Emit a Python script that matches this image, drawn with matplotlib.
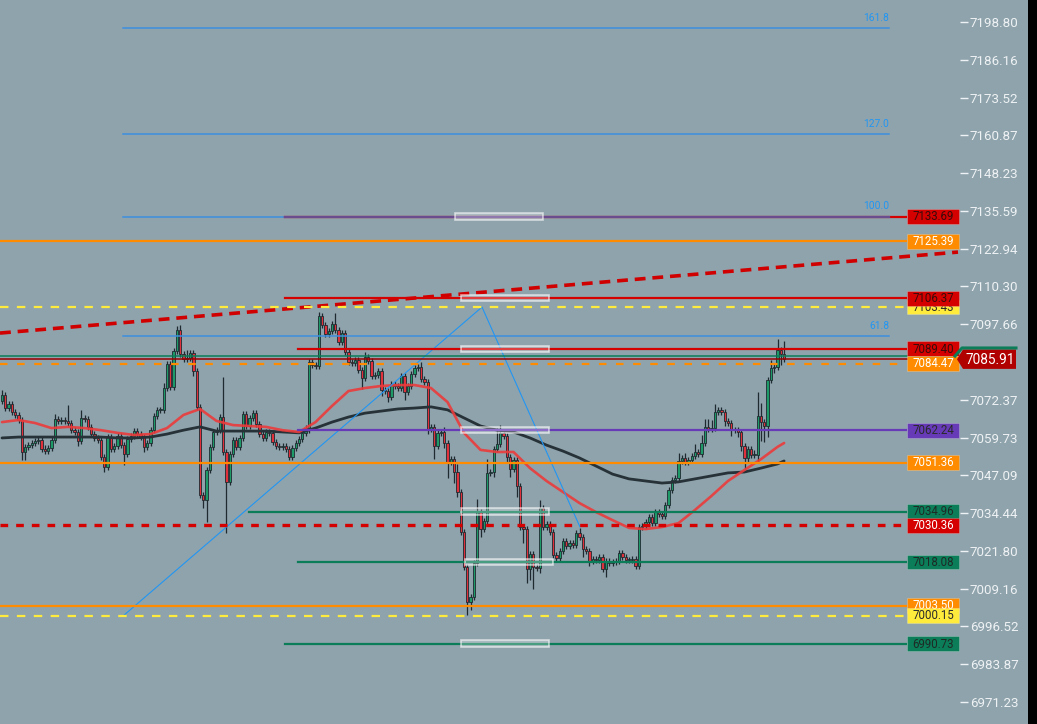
import numpy as np
import matplotlib.pyplot as plt
import matplotlib.transforms as mtransforms
from matplotlib.patches import Rectangle, Polygon

# Velas (cierres, 238 velas)
closes = [
    7074.0, 7069.6, 7070.9, 7068.3, 7067.3, 7065.6, 7054.9, 7056.6, 7057.2, 7057.9,
    7058.6, 7058.9, 7055.9, 7055.2, 7056.2, 7058.9, 7065.9, 7065.3, 7065.6, 7065.3,
    7064.6, 7062.2, 7061.6, 7058.6, 7066.3, 7065.9, 7063.3, 7060.9, 7059.6, 7058.9,
    7053.2, 7049.9, 7059.9, 7055.9, 7056.9, 7060.2, 7057.2, 7054.2, 7059.2, 7060.2,
    7061.9, 7060.9, 7059.9, 7056.6, 7057.9, 7062.2, 7066.9, 7069.0, 7069.0, 7076.3,
    7084.3, 7076.6, 7088.7, 7095.7, 7087.7, 7086.0, 7086.4, 7088.0, 7082.0, 7070.0,
    7040.5, 7038.8, 7048.9, 7056.6, 7061.6, 7062.2, 7066.6, 7054.9, 7044.9, 7054.2,
    7058.9, 7056.6, 7059.6, 7067.6, 7063.6, 7066.3, 7067.9, 7064.3, 7060.9, 7059.6,
    7061.6, 7061.3, 7058.2, 7056.9, 7056.6, 7056.9, 7055.9, 7053.2, 7056.2, 7057.9,
    7059.2, 7061.3, 7062.9, 7085.0, 7084.0, 7083.7, 7100.4, 7097.4, 7094.4, 7095.4,
    7097.7, 7095.7, 7091.7, 7094.7, 7088.4, 7085.0, 7084.7, 7085.7, 7082.3, 7079.7,
    7086.7, 7085.3, 7080.3, 7080.7, 7082.0, 7075.6, 7075.3, 7073.3, 7077.6, 7077.0,
    7076.3, 7080.3, 7075.0, 7077.0, 7081.0, 7083.0, 7083.3, 7079.3, 7078.3, 7062.6,
    7063.3, 7056.9, 7061.3, 7061.6, 7057.9, 7051.5, 7052.5, 7048.2, 7041.5, 7028.1,
    7016.4, 7004.7, 7006.4, 7017.7, 7034.8, 7029.1, 7031.8, 7047.9, 7048.2, 7055.9,
    7057.6, 7061.3, 7060.2, 7053.2, 7049.2, 7052.2, 7043.5, 7029.8, 7029.1, 7015.7,
    7020.8, 7016.4, 7016.1, 7036.2, 7029.8, 7030.8, 7028.1, 7020.4, 7019.4, 7021.8,
    7025.1, 7023.4, 7024.4, 7023.8, 7027.8, 7026.4, 7022.4, 7021.8, 7018.4, 7019.1,
    7018.7, 7019.8, 7015.7, 7018.4, 7017.7, 7018.1, 7018.4, 7021.1, 7019.8, 7018.7,
    7018.7, 7019.1, 7016.7, 7029.8, 7030.1, 7031.5, 7033.1, 7031.1, 7034.8, 7034.1,
    7033.5, 7037.2, 7042.2, 7045.5, 7046.2, 7051.9, 7052.9, 7051.5, 7052.2, 7053.6,
    7054.9, 7054.2, 7057.9, 7063.3, 7062.6, 7062.9, 7068.3, 7069.0, 7068.3, 7065.3,
    7064.6, 7062.2, 7062.2, 7061.6, 7056.9, 7052.9, 7055.9, 7053.9, 7053.9, 7066.9,
    7064.9, 7063.6, 7079.0, 7083.0, 7083.3, 7089.0, 7087.7, 7085.91,
]
first_open = 7072.0
wick_up = [
    2, 1, 1, 1, 1, 1, 1, 1, 1, 1,   1, 1, 1, 1.5, 1, 1, 2, 1, 1, 1,
    6, 1, 1, 1, 3, 1, 1, 1, 1, 1,   1, 1, 1, 1, 1, 1, 1, 1, 1, 1,
    1, 1, 1, 1, 1, 1, 1, 1, 1, 2,   1, 1, 1, 1.5, 2, 1, 3, 1, 1, 1,
    1, 1, 1, 1, 1, 1, 1, 15, 1, 1,  1, 1, 1, 1, 1, 1, 1, 1, 1, 1,
    1, 1, 1, 1, 1, 1, 1, 1, 1, 1,   1, 1, 1, 1, 1, 1, 1.5, 1, 1, 1,
    1, 4, 1, 1, 1, 1, 1, 1, 1, 1,   2, 1, 1, 1, 1, 1, 1, 1, 1, 1,
    1, 1, 1, 1, 1, 1, 1, 2, 1, 1,   1, 1, 1, 1, 2, 1, 1, 1, 3, 1,
    1, 1, 1, 1, 5, 1, 1, 5, 1, 1,   6, 3, 1, 1, 1, 1, 1, 1, 1, 1,
    1, 1, 1, 3, 1, 1, 1, 1, 1, 1,   1, 1, 1, 1, 1, 2, 1, 1, 1, 1,
    1, 1, 1, 1, 1, 1, 1, 1, 1, 1,   1, 1, 1, 1, 1, 1, 1, 1, 1, 1,
    1, 1, 1, 1, 1, 3, 1, 2, 1, 1,   3, 1, 3, 3, 3, 3, 3, 1, 1, 1,
    1, 1, 1, 1, 1, 1, 1, 1, 2, 9,   5, 1, 1, 3, 1, 4, 1, 5,
]
wick_dn = [
    1, 1, 1, 1, 1, 1, 3, 3, 1, 1,   1, 1, 1, 1, 1, 1, 1, 1, 1, 1,
    1, 1, 1, 2, 1, 1, 1, 1, 1, 1,   1, 2, 1, 1, 1, 1, 1, 4, 1, 1,
    1, 1, 1, 2, 1, 1, 1, 1, 1, 1,   1, 1, 1, 1, 1, 1, 1, 1, 2, 1,
    1, 3, 8, 1, 1, 1, 1, 1, 19, 1,  1, 1, 1, 1, 1, 1, 1, 1, 1, 1,
    1, 1, 1, 1, 1, 1, 1, 1, 1, 1,   1, 1, 1, 2, 1, 1, 1, 1, 1, 1,
    1, 1, 1, 1, 1, 1, 1, 1, 1, 4,   1, 1, 1, 1, 1, 2, 1, 2, 1, 1,
    1, 1, 3, 1, 1, 1, 1, 1, 1, 2,   1, 5, 1, 1, 2, 6, 1, 4, 2, 1,
    1, 5, 3, 1, 1, 3, 1, 1, 1, 2,   1, 1, 1, 2, 3, 1, 4, 1, 5, 5,
    4, 8, 1, 2, 1, 1, 1, 1, 1, 1,   1, 1, 1, 1, 1, 1, 3, 1, 2, 1,
    1, 1, 1, 3, 1, 1, 1, 1, 1, 1,   1, 1, 1, 1, 1, 1, 1, 1, 1, 1,
    1, 1, 1, 1, 1, 1, 1, 1, 1, 1,   1, 1, 1, 1, 1, 1, 1, 1, 1, 2,
    1, 2, 1, 2, 2, 4, 2, 1, 1, 3,   7, 6, 4, 1, 2, 1, 4, 1,
]

# Medias moviles (leidas cada 5 velas)
ma_idx = list(range(0, 236, 5)) + [237]
ma_fast = [7064.9, 7065.6, 7064.6, 7062.9, 7063.3, 7062.9, 7062.2, 7061.3, 7060.6, 7060.9,
           7062.9, 7067.3, 7069.3, 7065.3, 7063.9, 7063.6, 7063.3, 7062.2, 7061.6, 7064.9,
           7070.3, 7075.3, 7076.3, 7077.0, 7077.3, 7077.3, 7076.3, 7071.6, 7061.3, 7055.6,
           7054.9, 7054.9, 7049.5, 7045.2, 7041.5, 7037.8, 7034.8, 7032.1, 7029.5, 7029.1,
           7029.8, 7031.1, 7035.5, 7040.2, 7045.2, 7048.9, 7052.5, 7056.6, 7057.9]
ma_slow = [7059.6, 7059.9, 7059.9, 7059.9, 7059.9, 7059.9, 7059.9, 7059.6, 7059.6, 7059.9,
           7060.9, 7062.2, 7063.3, 7061.9, 7061.9, 7061.9, 7061.9, 7061.6, 7061.3, 7062.9,
           7064.9, 7066.6, 7067.9, 7068.6, 7069.3, 7069.6, 7070.0, 7069.0, 7066.3, 7063.6,
           7062.2, 7061.6, 7059.6, 7057.2, 7055.2, 7052.9, 7050.2, 7047.5, 7045.9, 7045.2,
           7044.5, 7044.9, 7045.9, 7046.9, 7047.9, 7048.2, 7049.5, 7050.9, 7051.9]

# Niveles horizontales
level_prices = [7103.43, 7133.69, 7125.39, 7106.37, 7089.40, 7084.47, 7062.24,
                7051.36, 7034.96, 7030.36, 7018.08, 7003.50, 7000.15, 6990.73]
level_labels = ['7103.43', '7133.69', '7125.39', '7106.37', '7089.40', '7084.47', '7062.24',
                '7051.36', '7034.96', '7030.36', '7018.08', '7003.50', '7000.15', '6990.73']
level_start_px = [0, 285, 0, 285, 298, 0, 298, 0, 249, 0, 298, 0, 0, 285]
level_colors = ['#ffeb3b', '#d50000', '#ff8c00', '#d50000', '#d50000', '#ff8c00', '#673ab7',
                '#ff8c00', '#0b7d58', '#d50000', '#0b7d58', '#ff8c00', '#ffeb3b', '#0b7d58']
level_styles = ['yellow', 'solid', 'solid', 'solid', 'solid', 'orange', 'solid',
                'solid', 'solid', 'red', 'solid', 'solid', 'yellow', 'solid']
label_text_colors = ['#2a2a2a', '#3a0a0a', 'white', '#3a0a0a', '#3a0a0a', 'white', '#2a2a2a',
                     'white', '#1e2a26', 'white', '#1e2a26', 'white', '#2a2a2a', '#1e2a26']

# Zonas (cajas blancas)
zone_prices = [7133.69, 7106.37, 7089.40, 7062.24, 7034.96, 7018.08, 6990.73]
zone_px = [(455, 543), (461, 549), (461, 549), (461, 549), (461, 549), (465, 553), (461, 549)]

# Fibonacci
fib_names = ['161.8', '127.0', '100.0', '61.8']
fib_prices = [7196.8, 7161.3, 7133.69, 7093.7]
zig_px = [123, 482, 580]
zig_prices = [7000.0, 7103.4, 7029.8]

trend_px = [0, 958]
trend_prices = [7094.7, 7121.8]

last_price = 7085.91
second_price = 7087.0

yticks = [7198.80, 7186.16, 7173.52, 7160.87, 7148.23, 7135.59, 7122.94, 7110.30, 7097.66,
          7072.37, 7059.73, 7047.09, 7034.44, 7021.80, 7009.16, 6996.52, 6983.87, 6971.23]

bg = '#8fa3ac'
W, H = 1037, 724
AXW = 960


def px(x):
    # pixel horizontal -> indice de vela
    return (x - 2) / 3.3


fig = plt.figure(figsize=(W / 100, H / 100), dpi=100)
fig.patch.set_facecolor(bg)
ax = fig.add_axes([0, 0, AXW / W, 1])
ax.set_facecolor(bg)
ax.set_xlim(px(0), px(AXW))
ax.set_ylim(6963.87, 7206.16)
for s in ax.spines.values():
    s.set_visible(False)
ax.set_xticks([])
ax.yaxis.tick_right()
ax.set_yticks(yticks)
ax.set_yticklabels(['%.2f' % t for t in yticks], fontfamily='Roboto')
ax.tick_params(axis='y', colors='#eef2f4', length=6, width=1, pad=1, labelsize=9.6)

blend = mtransforms.blended_transform_factory(ax.transAxes, ax.transData)

# velas
n = len(closes)
x = np.arange(n)
c = np.array(closes)
o = np.array([first_open] + closes[:-1])
hi = np.maximum(o, c) + np.array(wick_up) * 0.9
lo = np.minimum(o, c) - np.array(wick_dn) * 0.9
up = c >= o
ax.vlines(x, lo, hi, color='#1f2a30', lw=0.9, zorder=2)
body = np.maximum(np.abs(c - o), 0.4)
ax.bar(x, body, bottom=np.minimum(o, c), width=0.72,
       color=np.where(up, '#1e9a68', '#e0303c'), edgecolor='#1f2a30', lw=0.6, zorder=2.1)

# medias moviles
ax.plot(ma_idx, ma_slow, color='#263238', lw=2.0, zorder=3, solid_capstyle='round')
ax.plot(ma_idx, ma_fast, color='#ec3b3b', lw=1.9, alpha=0.9, zorder=3, solid_capstyle='round')

# fibonacci
for name, p in zip(fib_names, fib_prices):
    ax.plot([px(123), px(889)], [p, p], color='#3d8fe0', lw=1.1, zorder=3.5)
    ax.text(px(889), p + 1.7, name, ha='right', va='bottom', fontsize=7.4,
            color='#2196f3', fontfamily='Roboto', zorder=6)
ax.plot([px(v) for v in zig_px], zig_prices, color='#2196f3', lw=0.8, zorder=3.6)

# linea de tendencia
ax.plot([px(v) for v in trend_px], trend_prices, color='#d00000', lw=2.6,
        dashes=(3.0, 1.9), zorder=4)

# precio actual
ax.plot([0, 955 / AXW], [second_price, second_price], color='#0b7d58', lw=1.1,
        transform=blend, zorder=4)
ax.plot([0, 957 / AXW], [last_price, last_price], color='#9b0000', lw=1.1,
        transform=blend, zorder=4)

# niveles
for p, lab, sx, col, sty, tc in zip(level_prices, level_labels, level_start_px,
                                     level_colors, level_styles, label_text_colors):
    if sty == 'solid':
        ax.plot([px(sx), px(906)], [p, p], color=col, lw=1.6, zorder=4.2)
    elif sty == 'yellow':
        ax.plot([px(sx), px(906)], [p, p], color=col, lw=1.6, dashes=(3.8, 3.8), zorder=4.2)
    elif sty == 'orange':
        ax.plot([px(sx), px(906)], [p, p], color=col, lw=1.6, dashes=(3.4, 4.3), zorder=4.2)
    elif sty == 'red':
        ax.plot([px(sx), px(906)], [p, p], color=col, lw=2.4, dashes=(2.3, 2.4), zorder=4.2)

# tramo violeta del nivel 100.0
ax.plot([px(285), px(889)], [7133.69, 7133.69], color='#6a4c8f', lw=1.6, zorder=4.3)

# zonas
for p, (a, b) in zip(zone_prices, zone_px):
    ax.add_patch(Rectangle((px(a), p - 1.1), px(b) - px(a), 2.2,
                           facecolor=(1, 1, 1, 0.25), edgecolor=(1, 1, 1, 0.6),
                           lw=1.2, zorder=5))

# etiquetas de precio
for k, (p, lab, col, tc) in enumerate(zip(level_prices, level_labels, level_colors,
                                           label_text_colors)):
    z = 6 + k * 0.01
    ax.add_patch(Rectangle((907 / AXW, p - 2.5), 52 / AXW, 5.0, transform=blend,
                           facecolor=col, edgecolor=(1, 1, 1, 0.25), lw=0.6,
                           clip_on=False, zorder=z))
    ax.text(933 / AXW, p - 0.1, lab, transform=blend, ha='center', va='center',
            fontsize=8.3, color=tc, fontfamily='Roboto', zorder=z + 0.005, clip_on=False)

# etiqueta del precio actual
ax.add_patch(Polygon([(957 / AXW, last_price), (963 / AXW, last_price + 3.3),
                      (1016 / AXW, last_price + 3.3), (1016 / AXW, last_price - 3.2),
                      (963 / AXW, last_price - 3.2)], closed=True, transform=blend,
                     facecolor='#b00000', edgecolor='none', clip_on=False, zorder=7))
ax.plot([955 / AXW, 962 / AXW, 1016 / AXW], [second_price, last_price + 3.8, last_price + 3.8],
        color='#0b7d58', lw=2.2, transform=blend, clip_on=False, zorder=7.1)
ax.text(990 / AXW, last_price - 0.2, '%.2f' % last_price, transform=blend, ha='center',
        va='center', fontsize=9.8, color='white', fontfamily='Roboto', zorder=8, clip_on=False)

# franja negra a la derecha
fig.patches.append(Rectangle((1028 / W, 0), 9 / W, 1, transform=fig.transFigure,
                             facecolor='black', edgecolor='none'))

fig.savefig('out.png', dpi=100, facecolor=bg)
